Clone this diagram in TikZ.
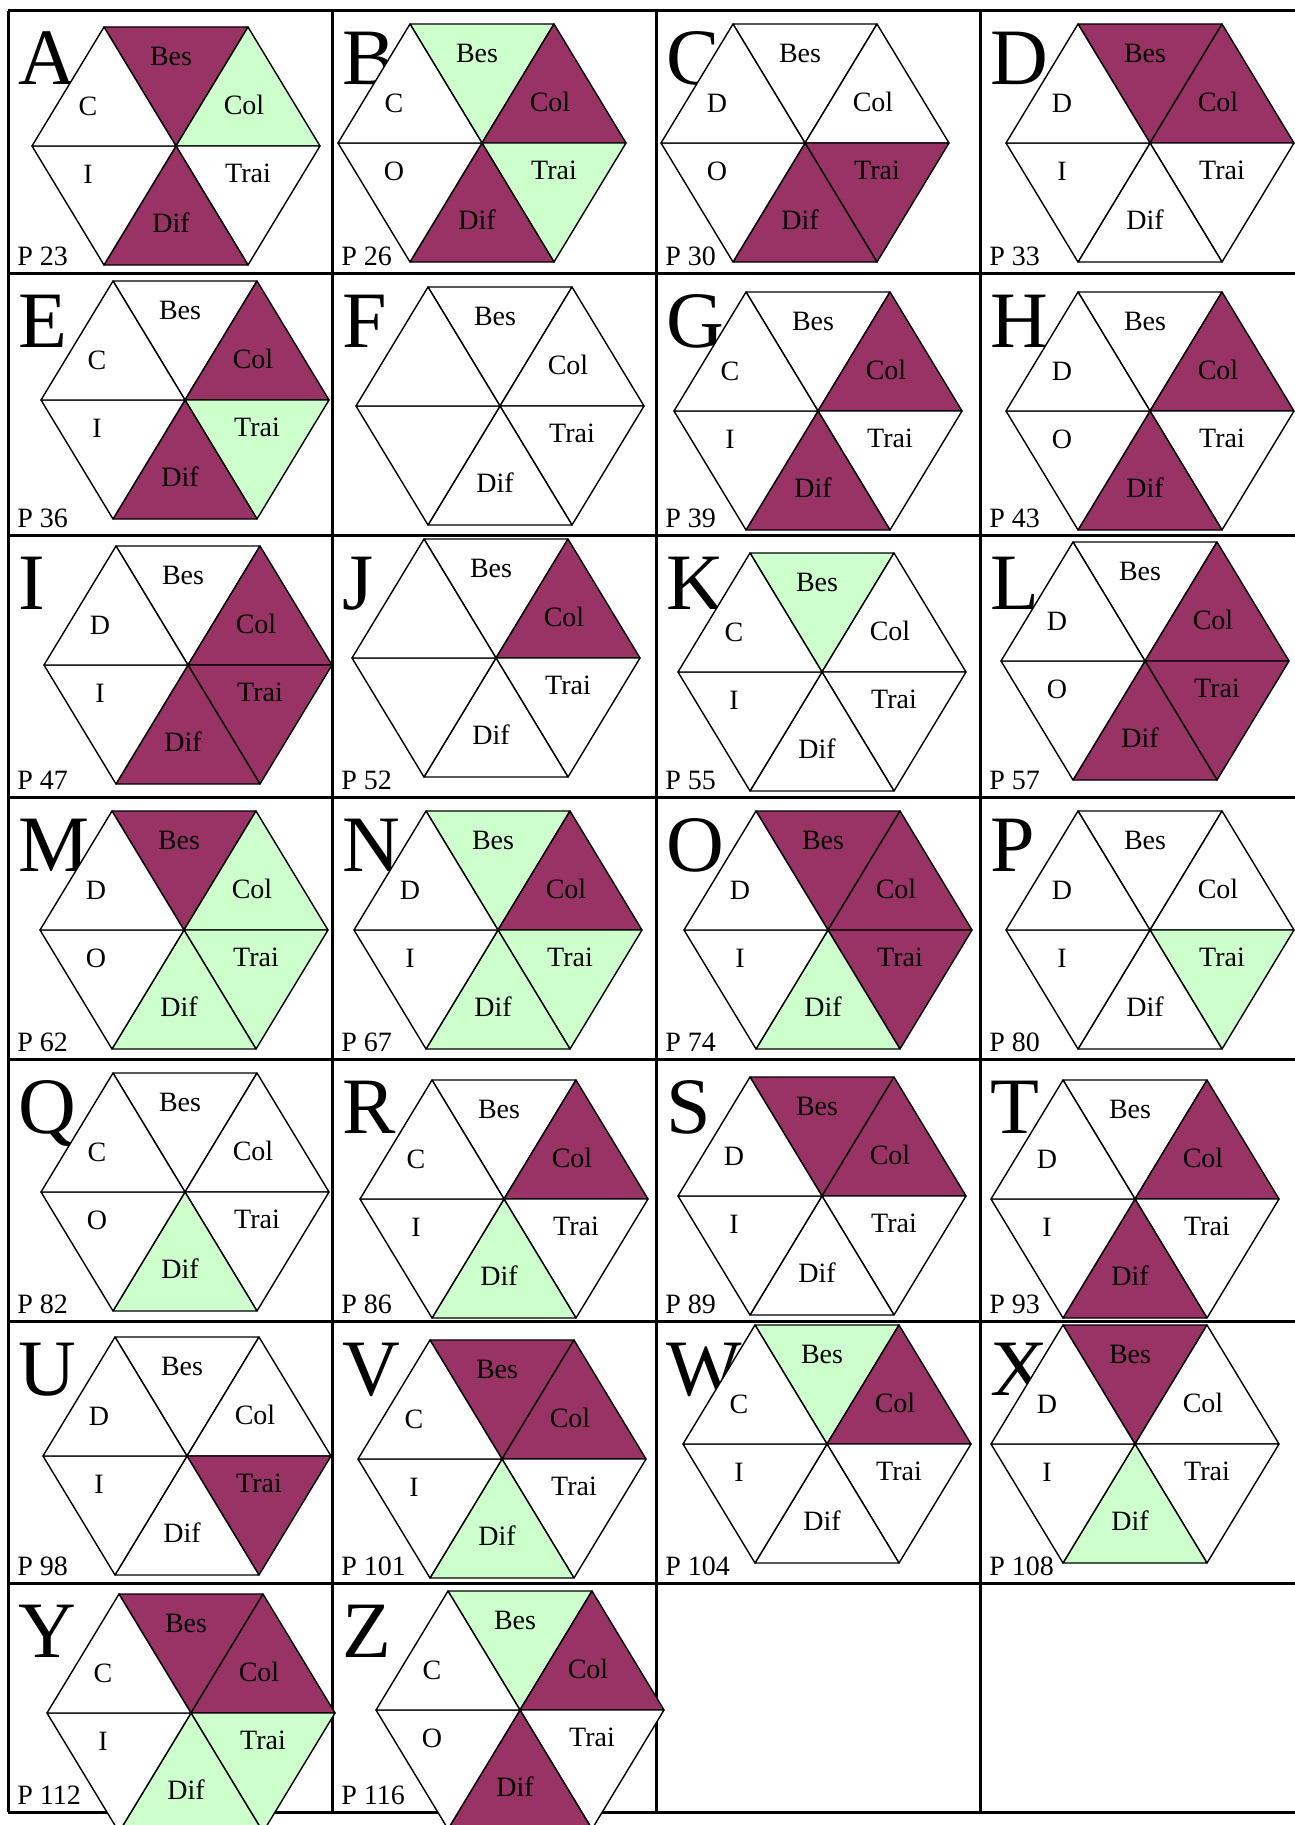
\documentclass[tikz,border=0pt]{standalone}
\usepackage{fontspec}
\setmainfont{Liberation Serif}
\usepackage{tikz}
\definecolor{plum}{RGB}{153,51,102}
\definecolor{mint}{RGB}{204,255,204}

\begin{document}
\begin{tikzpicture}[x=0.5pt,y=-0.5pt,
  gridline/.style={line width=1.5pt},
  tri/.style={draw=black,line width=0.7pt,line join=round},
  lbl/.style={font=\fontsize{14}{16}\selectfont,inner sep=0pt},
  bigletter/.style={font=\fontsize{40}{40}\selectfont,inner sep=0pt}]
  \useasboundingbox (0,0) rectangle (1295,1825);
  \foreach \y in {11,273,535,797,1059,1321,1583,1812} {\draw[gridline] (8,\y) -- (1295,\y);}
  \foreach \x in {8,332,656,980} {\draw[gridline] (\x,11) -- (\x,1812);}
  \foreach \l/\cc/\rr/\cx/\cy/\pg/\up/\lo/\fb/\fc/\ft/\fd in {
    A/0/0/176/146/23/C/I/plum/mint/white/plum, B/1/0/482/143/26/C/O/mint/plum/mint/plum,
    C/2/0/805/143/30/D/O/white/white/plum/plum, D/3/0/1150/143/33/D/I/plum/plum/white/white,
    E/0/1/185/400/36/C/I/white/plum/mint/plum, F/1/1/500/406/0/-/-/white/white/white/white,
    G/2/1/818/411/39/C/I/white/plum/white/plum, H/3/1/1150/411/43/D/O/white/plum/white/plum,
    I/0/2/188/665/47/D/I/white/plum/plum/plum, J/1/2/496/658/52/-/-/white/plum/white/white,
    K/2/2/822/672/55/C/I/mint/white/white/white, L/3/2/1145/661/57/D/O/white/plum/plum/plum,
    M/0/3/184/930/62/D/O/plum/mint/mint/mint, N/1/3/498/930/67/D/I/mint/plum/mint/mint,
    O/2/3/828/930/74/D/I/plum/plum/plum/mint, P/3/3/1150/930/80/D/I/white/white/mint/white,
    Q/0/4/185/1192/82/C/O/white/white/white/mint, R/1/4/504/1199/86/C/I/white/plum/white/mint,
    S/2/4/822/1196/89/D/I/plum/plum/white/white, T/3/4/1135/1199/93/D/I/white/plum/white/plum,
    U/0/5/187/1456/98/D/I/white/white/plum/white, V/1/5/502/1459/101/C/I/plum/plum/white/mint,
    W/2/5/827/1444/104/C/I/mint/plum/white/white, X/3/5/1135/1444/108/D/I/plum/white/white/mint,
    Y/0/6/191/1713/112/C/I/plum/plum/mint/mint, Z/1/6/520/1710/116/C/O/mint/plum/white/plum} {
    \pgfmathsetmacro{\gx}{8+324*\cc} \pgfmathsetmacro{\gy}{11+262*\rr} \pgfmathsetmacro{\gb}{min(\gy+262,1812)}
    \node[bigletter,anchor=base west] (let\l) at (\gx+10,\gy+74) {\l};
    \ifnum\pg>0 \node[lbl,anchor=base west] (pg\l) at (\gx+9,\gb-8) {P \pg};\fi
    \filldraw[tri,fill=\fb] (\cx,\cy) -- ++(-72,-119) -- ++(144,0) -- cycle;
    \filldraw[tri,fill=\fc] (\cx,\cy) -- ++(72,-119) -- ++(72,119) -- cycle;
    \filldraw[tri,fill=\ft] (\cx,\cy) -- ++(144,0) -- ++(-72,119) -- cycle;
    \filldraw[tri,fill=\fd] (\cx,\cy) -- ++(72,119) -- ++(-144,0) -- cycle;
    \filldraw[tri,fill=white] (\cx,\cy) -- ++(-72,119) -- ++(-72,-119) -- cycle;
    \filldraw[tri,fill=white] (\cx,\cy) -- ++(-144,0) -- ++(72,-119) -- cycle;
    \node[lbl] (bes\l) at (\cx-5,\cy-90) {Bes};
    \node[lbl] (col\l) at (\cx+68,\cy-41) {Col};
    \node[lbl] (trai\l) at (\cx+72,\cy+27) {Trai};
    \node[lbl] (dif\l) at (\cx-5,\cy+77) {Dif};
    \if\up-\else \node[lbl] (up\l) at (\cx-88,\cy-40) {\up}; \node[lbl] (lo\l) at (\cx-88,\cy+28) {\lo};\fi
  }
\end{tikzpicture}
\end{document}
